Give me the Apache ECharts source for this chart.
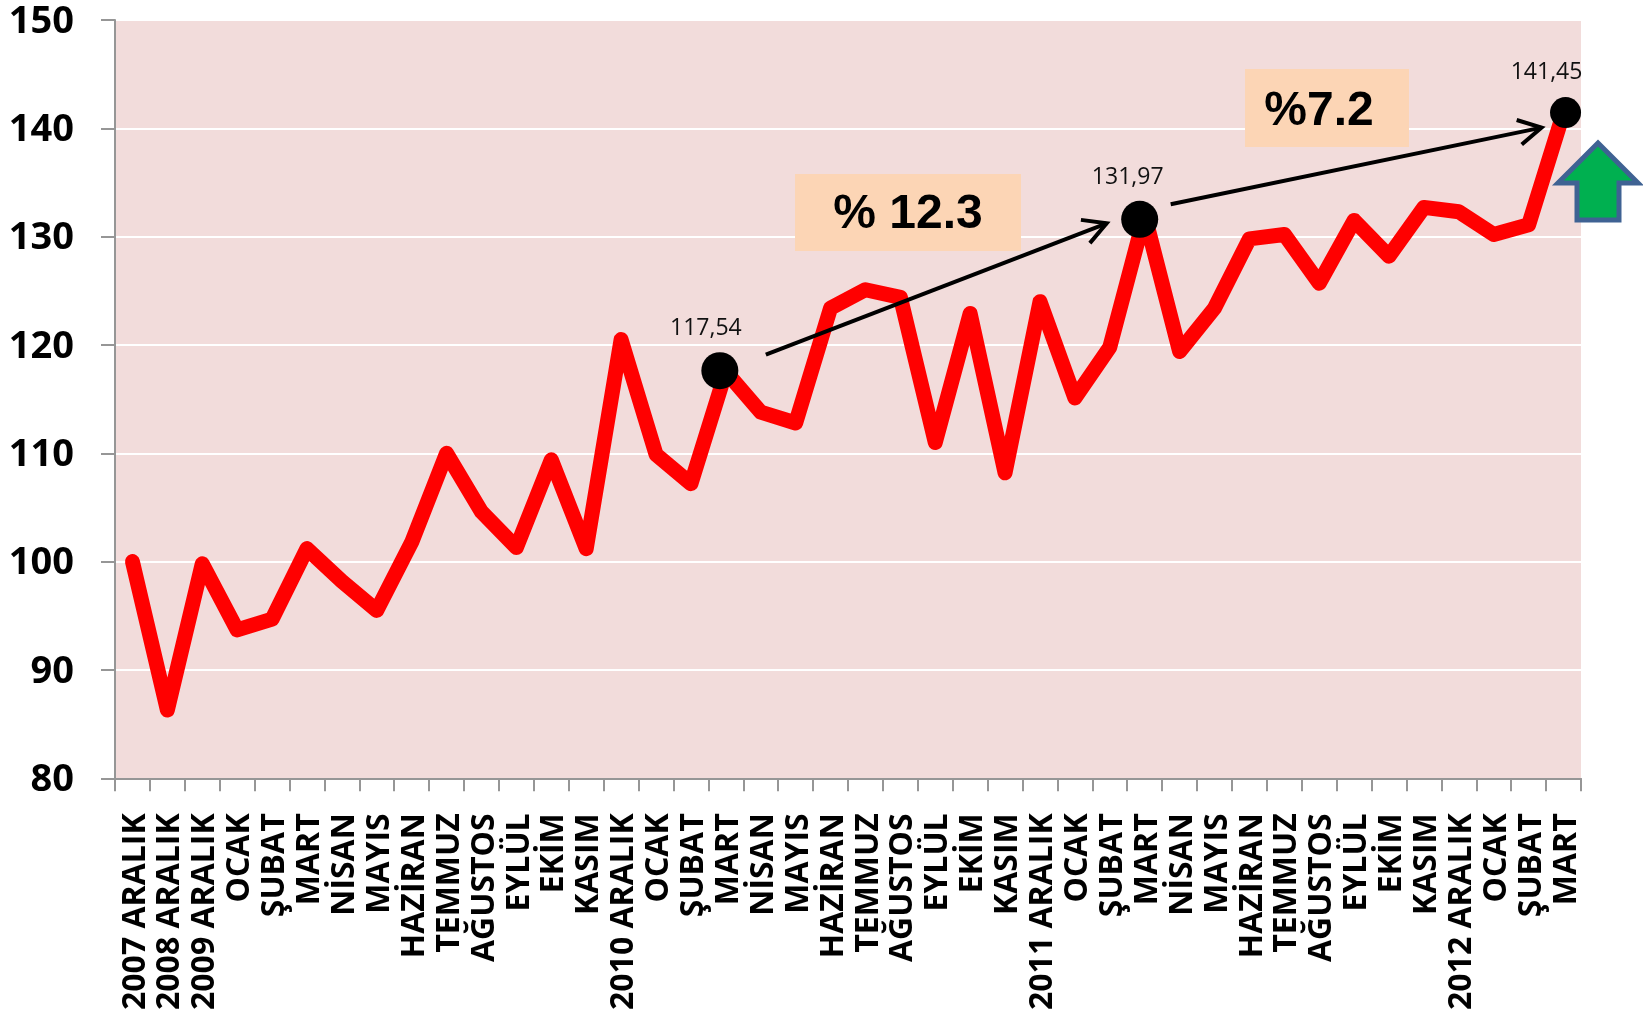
<!DOCTYPE html>
<html><head><meta charset="utf-8">
<style>html,body{margin:0;padding:0;background:#fff}#c{width:1643px;height:1013px}</style>
<script src="https://cdn.jsdelivr.net/npm/echarts@6/dist/echarts.min.js"></script>
</head><body><div id="c"></div>
<script>
const categories = ["2007 ARALIK","2008 ARALIK","2009 ARALIK","OCAK","ŞUBAT","MART","NİSAN","MAYIS","HAZİRAN","TEMMUZ","AĞUSTOS","EYLÜL","EKİM","KASIM","2010 ARALIK","OCAK","ŞUBAT","MART","NİSAN","MAYIS","HAZİRAN","TEMMUZ","AĞUSTOS","EYLÜL","EKİM","KASIM","2011 ARALIK","OCAK","ŞUBAT","MART","NİSAN","MAYIS","HAZİRAN","TEMMUZ","AĞUSTOS","EYLÜL","EKİM","KASIM","2012 ARALIK","OCAK","ŞUBAT","MART"];
const values = [100,86.3,99.8,93.7,94.7,101.2,98.2,95.5,101.8,110,104.6,101.3,109.4,101.2,120.5,109.9,107.2,117.54,113.8,112.8,123.4,125.1,124.4,111,122.9,108.2,124,115.1,119.8,131.97,119.4,123.4,129.8,130.2,125.7,131.5,128.2,132.7,132.3,130.2,131.1,141.45];
const highlights = [17,29,41];
const highlightLabels = ["117,54","131,97","141,45"];
const changeLabels = ["% 12.3","%7.2"];

const chart = echarts.init(document.getElementById('c'), null, {renderer:'canvas'});
const dotSizes=[37,37,31], dotOffsets=[[-6,-1],[-5,4],[2,0]], labelOffsets=[[-14,-4],[-12,-4],[-19,-5]];
const xText={color:'#000',fontFamily:'Open Sans',fontWeight:'bold',fontSize:32};
const yText={color:'#000',fontFamily:'Open Sans',fontWeight:'bold',fontSize:38};
chart.setOption({
  animation:false,
  backgroundColor:'#fff',
  grid:{left:115,right:62,top:20,bottom:234,show:true,backgroundColor:'#f2dcdb',borderWidth:0},
  xAxis:{type:'category',data:categories,boundaryGap:true,
    axisLine:{lineStyle:{color:'#969696',width:2}},
    axisTick:{show:true,alignWithLabel:false,interval:0,length:13,lineStyle:{color:'#969696',width:2}},
    axisLabel:{interval:0,rotate:90,margin:35,...xText,formatter:v=>'{a|'+v+'}',rich:{a:{...xText,padding:[6,0,0,0]}}}},
  yAxis:{type:'value',min:80,max:150,interval:10,
    axisLine:{show:true,lineStyle:{color:'#969696',width:2}},
    axisTick:{show:true,length:14,lineStyle:{color:'#969696',width:2}},
    splitLine:{show:true,lineStyle:{color:'#fff',width:2}},
    axisLabel:{margin:41,...yText,formatter:v=>'{a|'+v+'}',rich:{a:{...yText,padding:[4,0,0,0]}}}},
  series:[{type:'line',data:values,symbol:'none',
    lineStyle:{color:'#ff0000',width:15,cap:'round',join:'round'},
    markPoint:{silent:true,data:highlights.map((idx,i)=>({
      coord:[idx,values[idx]],symbol:'circle',symbolSize:dotSizes[i],symbolOffset:dotOffsets[i],
      itemStyle:{color:'#000'},
      label:{show:true,formatter:highlightLabels[i],position:'top',distance:8,offset:labelOffsets[i],color:'#111',fontFamily:'Open Sans',fontSize:23}
    }))}
  }]
});
const px=i=>chart.convertToPixel({xAxisIndex:0,yAxisIndex:0},[highlights[i],values[highlights[i]]]);
function arrow(a,b){
  const ang=Math.atan2(b[1]-a[1],b[0]-a[0]),L=26,w=0.5;
  const st={stroke:'#000',lineWidth:4,fill:null};
  return [{type:'line',shape:{x1:a[0],y1:a[1],x2:b[0],y2:b[1]},style:st,z:20},
    {type:'polyline',shape:{points:[[b[0]-L*Math.cos(ang-w),b[1]-L*Math.sin(ang-w)],b,[b[0]-L*Math.cos(ang+w),b[1]-L*Math.sin(ang+w)]]},style:st,z:20}];
}
function box(x,y,w,h,t,cx,cy){
  return [{type:'rect',shape:{x,y,width:w,height:h},style:{fill:'#fcd5b5'},z:15},
   {type:'text',x:cx,y:cy,style:{text:t,fill:'#000',font:'bold 48px "Liberation Sans"',align:'center',verticalAlign:'middle'},z:16}];
}
const p0=px(0),p1=px(1),p2=px(2);
chart.setOption({graphic:{elements:[
  ...box(795,174,226,77,changeLabels[0],908,215),
  ...box(1245,69,164,78,changeLabels[1],1319,112),
  ...arrow([p0[0]+40,p0[1]-17],[p1[0]-38,p1[1]+8]),
  ...arrow([p1[0]+26,p1[1]-11],[p2[0]-22,p2[1]+15]),
  {type:'polygon',shape:{points:[[1598,143],[1638,183],[1619,183],[1619,220],[1577,220],[1577,183],[1558,183]]},
   style:{fill:'#00b050',stroke:'#3f6293',lineWidth:5},z:20}
]}});
</script></body></html>
